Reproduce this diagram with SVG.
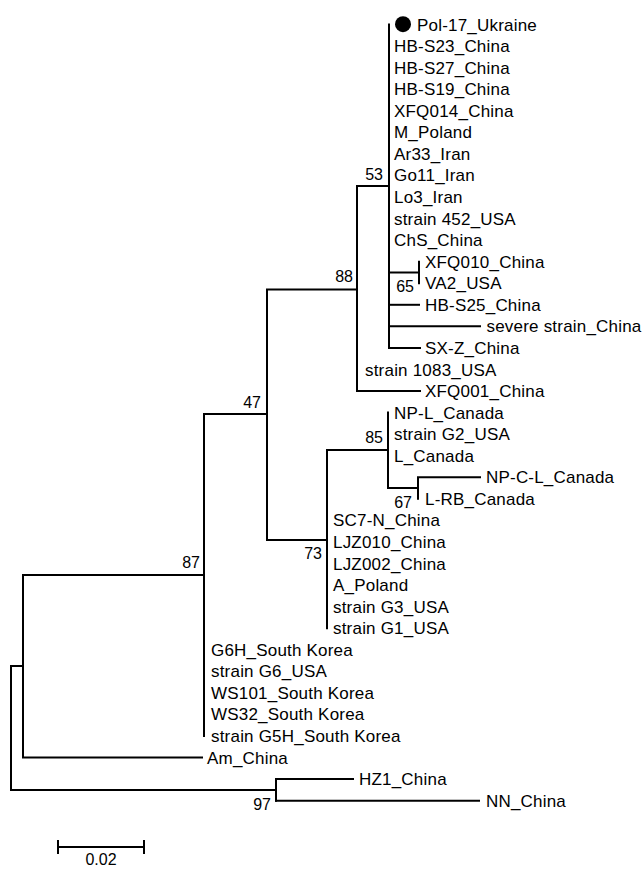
<svg xmlns="http://www.w3.org/2000/svg" width="643" height="869" viewBox="0 0 643 869">
<style>
.br{stroke:#000;stroke-width:2;fill:none;stroke-linecap:square}
.lf{font-family:"Liberation Sans",Arial,sans-serif;font-size:17px;letter-spacing:0.2px;fill:#000}
.bs{font-family:"Liberation Sans",Arial,sans-serif;font-size:16px;fill:#000;text-anchor:end}
.sc{font-family:"Liberation Sans",Arial,sans-serif;font-size:16px;fill:#000;text-anchor:middle}
</style>
<rect width="643" height="869" fill="#fff"/>
<g id="connectors">
<path class="br" d="M23,666 H11 V790 H276"/>
<path class="br" d="M204,575 H23 V757.5 H202"/>
<path class="br" d="M267,414 H204 V736"/>
<path class="br" d="M357,289.5 H267 V540 H327"/>
<path class="br" d="M389,186 H357 V391 H420"/>
<path class="br" d="M389,24.5 V347.9 H420"/>
<path class="br" d="M389,272.5 H419"/>
<path class="br" d="M419,261.7 V283.2"/>
<path class="br" d="M389,304.8 H419"/>
<path class="br" d="M389,326.3 H480"/>
<path class="br" d="M327,450 V628.2"/>
<path class="br" d="M327,450 H388"/>
<path class="br" d="M388,412.6 V488 H418"/>
<path class="br" d="M418,498.8 V477.3 H480"/>
<path class="br" d="M276,779.1 V800.7"/>
<path class="br" d="M276,779.1 H353"/>
<path class="br" d="M276,800.7 H479"/>
</g>
<g id="leaves">
<g id="pol17"><circle cx="403" cy="24.2" r="8" fill="#000"/><text class="lf" x="417" y="30.5">Pol-17_Ukraine</text></g>
<g id="hbs23"><text class="lf" x="394" y="52.1">HB-S23_China</text></g>
<g id="hbs27"><text class="lf" x="394" y="73.6">HB-S27_China</text></g>
<g id="hbs19"><text class="lf" x="394" y="95.2">HB-S19_China</text></g>
<g id="xfq014"><text class="lf" x="394" y="116.7">XFQ014_China</text></g>
<g id="mpoland"><text class="lf" x="394" y="138.3">M_Poland</text></g>
<g id="ar33"><text class="lf" x="394" y="159.9">Ar33_Iran</text></g>
<g id="go11"><text class="lf" x="394" y="181.4">Go11_Iran</text></g>
<g id="lo3"><text class="lf" x="394" y="203">Lo3_Iran</text></g>
<g id="s452"><text class="lf" x="394" y="224.5">strain 452_USA</text></g>
<g id="chs"><text class="lf" x="394" y="246.1">ChS_China</text></g>
<g id="xfq010"><text class="lf" x="425" y="267.7">XFQ010_China</text></g>
<g id="va2"><text class="lf" x="425" y="289.2">VA2_USA</text></g>
<g id="hbs25"><text class="lf" x="425" y="310.8">HB-S25_China</text></g>
<g id="severe"><text class="lf" x="486.5" y="332.3">severe strain_China</text></g>
<g id="sxz"><text class="lf" x="425" y="353.9">SX-Z_China</text></g>
<g id="s1083"><text class="lf" x="365" y="375.5">strain 1083_USA</text></g>
<g id="xfq001"><text class="lf" x="425" y="397">XFQ001_China</text></g>
<g id="npl"><text class="lf" x="394" y="418.6">NP-L_Canada</text></g>
<g id="g2"><text class="lf" x="394" y="440.1">strain G2_USA</text></g>
<g id="lcanada"><text class="lf" x="394" y="461.7">L_Canada</text></g>
<g id="npcl"><text class="lf" x="486" y="483.3">NP-C-L_Canada</text></g>
<g id="lrb"><text class="lf" x="425" y="504.8">L-RB_Canada</text></g>
<g id="sc7n"><text class="lf" x="333" y="526.4">SC7-N_China</text></g>
<g id="ljz010"><text class="lf" x="333" y="547.9">LJZ010_China</text></g>
<g id="ljz002"><text class="lf" x="333" y="569.5">LJZ002_China</text></g>
<g id="apoland"><text class="lf" x="333" y="591.1">A_Poland</text></g>
<g id="g3"><text class="lf" x="333" y="612.6">strain G3_USA</text></g>
<g id="g1"><text class="lf" x="333" y="634.2">strain G1_USA</text></g>
<g id="g6h"><text class="lf" x="211" y="655.7">G6H_South Korea</text></g>
<g id="g6"><text class="lf" x="211" y="677.3">strain G6_USA</text></g>
<g id="ws101"><text class="lf" x="211" y="698.9">WS101_South Korea</text></g>
<g id="ws32"><text class="lf" x="211" y="720.4">WS32_South Korea</text></g>
<g id="g5h"><text class="lf" x="211" y="742">strain G5H_South Korea</text></g>
<g id="am"><text class="lf" x="207" y="763.5">Am_China</text></g>
<g id="hz1"><text class="lf" x="359" y="785.1">HZ1_China</text></g>
<g id="nn"><text class="lf" x="486" y="806.7">NN_China</text></g>
</g>
<g id="internal">
<g id="n53"><text class="bs" x="383" y="180">53</text></g>
<g id="n88"><text class="bs" x="353" y="282">88</text></g>
<g id="n65"><text class="bs" x="414" y="291.5">65</text></g>
<g id="n47"><text class="bs" x="261" y="408">47</text></g>
<g id="n85"><text class="bs" x="383" y="443">85</text></g>
<g id="n67"><text class="bs" x="412" y="508">67</text></g>
<g id="n73"><text class="bs" x="322" y="559">73</text></g>
<g id="n87"><text class="bs" x="200" y="568">87</text></g>
<g id="n97"><text class="bs" x="271" y="810">97</text></g>
</g>
<g id="scalebar">
<path class="br" d="M58,847 H144 M58,841 V853 M144,841 V853" stroke-linecap="butt"/>
<text class="sc" x="101" y="865">0.02</text>
</g>
</svg>
